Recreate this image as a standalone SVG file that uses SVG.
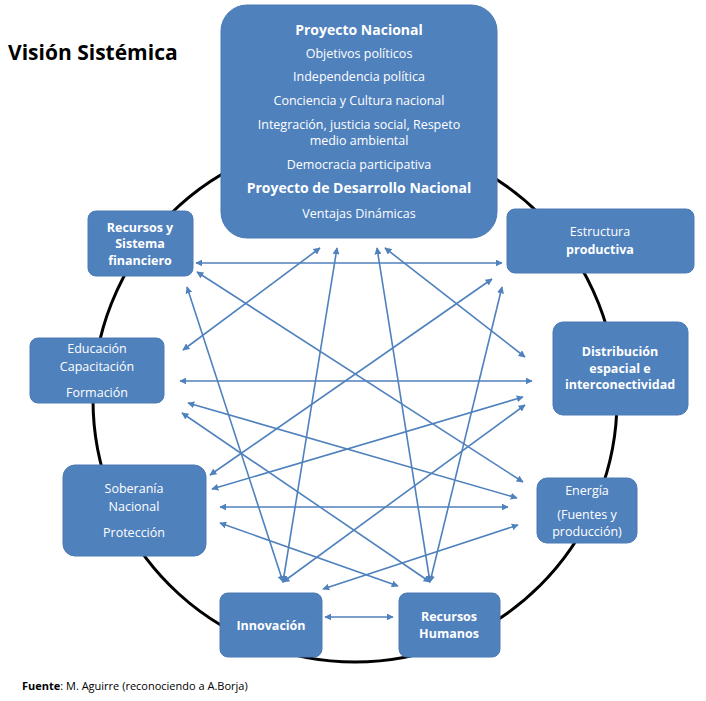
<svg xmlns="http://www.w3.org/2000/svg" width="706" height="701" viewBox="0 0 706 701">
<style>
.b{fill:#4f81bd;stroke:#4a7ab3;stroke-width:1}
.t{fill:#fff;font-family:"Open Sans","Liberation Sans",sans-serif;font-size:12.5px;text-anchor:middle}
.bd{font-weight:bold}
.c line{stroke:#4f81bd;stroke-width:1.6;marker-start:url(#a);marker-end:url(#a)}
</style>
<defs><marker id="a" viewBox="0 0 10 10" refX="9" refY="5" markerWidth="7" markerHeight="7" orient="auto-start-reverse" markerUnits="userSpaceOnUse"><path d="M0,0L10,5L0,10z" fill="#4f81bd"/></marker></defs>
<rect width="706" height="701" fill="#fff"/>
<circle cx="355" cy="400" r="262" fill="none" stroke="#000" stroke-width="3"/>
<text x="8" y="60" font-family="Open Sans,Liberation Sans,sans-serif" font-weight="bold" font-size="21" fill="#000">Visión Sistémica</text>
<text x="22" y="690" font-family="Open Sans,Liberation Sans,sans-serif" font-size="11" fill="#000"><tspan font-weight="bold">Fuente</tspan>: M. Aguirre (reconociendo a A.Borja)</text>
<g class="c">
<line x1="196" y1="263" x2="502" y2="263"/>
<line x1="320" y1="248" x2="183" y2="350"/>
<line x1="337" y1="248" x2="283" y2="582"/>
<line x1="377" y1="248" x2="430" y2="582"/>
<line x1="385" y1="248" x2="525" y2="357"/>
<line x1="197" y1="272" x2="523" y2="482"/>
<line x1="187" y1="287" x2="283" y2="582"/>
<line x1="492" y1="279" x2="210" y2="475"/>
<line x1="502" y1="287" x2="430" y2="582"/>
<line x1="180" y1="381" x2="532" y2="381"/>
<line x1="523" y1="397" x2="212" y2="489"/>
<line x1="525" y1="405" x2="283" y2="582"/>
<line x1="188" y1="403" x2="517" y2="498"/>
<line x1="182" y1="413" x2="430" y2="582"/>
<line x1="220" y1="507" x2="508" y2="507"/>
<line x1="220" y1="523" x2="398" y2="586"/>
<line x1="518" y1="525" x2="323" y2="589"/>
<line x1="325" y1="617" x2="393" y2="617"/>
</g>
<g id="pn"><rect class="b" x="221" y="5" width="276" height="233" rx="26"/>
<text class="t" y="35"><tspan x="359" class="bd" font-size="14">Proyecto Nacional</tspan><tspan x="359" dy="23">Objetivos políticos</tspan><tspan x="359" dy="23">Independencia política</tspan><tspan x="359" dy="24">Conciencia y Cultura nacional</tspan><tspan x="359" dy="24">Integración, justicia social, Respeto</tspan><tspan x="359" dy="16">medio ambiental</tspan><tspan x="359" dy="24">Democracia participativa</tspan><tspan x="359" dy="24" class="bd" font-size="14">Proyecto de Desarrollo Nacional</tspan><tspan x="359" dy="25">Ventajas Dinámicas</tspan></text></g>
<g id="rsf"><rect class="b" x="88" y="211" width="105" height="65" rx="8"/><text class="t bd" font-size="12"><tspan x="140" y="232">Recursos y</tspan><tspan x="140" y="248">Sistema</tspan><tspan x="140" y="265">financiero</tspan></text></g>
<g id="ep"><rect class="b" x="507" y="209" width="187" height="64" rx="8"/><text class="t" font-size="13.5"><tspan x="600" y="236">Estructura</tspan><tspan x="600" y="254" class="bd">productiva</tspan></text></g>
<g id="de"><rect class="b" x="553" y="322" width="135" height="93" rx="10"/><text class="t bd" font-size="12"><tspan x="620" y="356">Distribución</tspan><tspan x="620" y="373">espacial e</tspan><tspan x="620" y="389">interconectividad</tspan></text></g>
<g id="ed"><rect class="b" x="30" y="338" width="134" height="65" rx="8"/><text class="t" font-size="13.5"><tspan x="97" y="353">Educación</tspan><tspan x="97" y="371">Capacitación</tspan><tspan x="97" y="397">Formación</tspan></text></g>
<g id="en"><rect class="b" x="537" y="478" width="100" height="65" rx="10"/><text class="t" font-size="13.5"><tspan x="587" y="495">Energía</tspan><tspan x="587" y="519" font-size="12.5">(Fuentes y</tspan><tspan x="587" y="536" font-size="12.5">producción)</tspan></text></g>
<g id="so"><rect class="b" x="63" y="465" width="143" height="91" rx="12"/><text class="t" font-size="13.5"><tspan x="134" y="493">Soberanía</tspan><tspan x="134" y="511">Nacional</tspan><tspan x="134" y="537">Protección</tspan></text></g>
<g id="in"><rect class="b" x="220" y="593" width="102" height="64" rx="8"/><text class="t bd" x="271" y="630" font-size="13">Innovación</text></g>
<g id="rh"><rect class="b" x="399" y="593" width="101" height="64" rx="8"/><text class="t bd" font-size="13"><tspan x="449" y="621">Recursos</tspan><tspan x="449" y="638">Humanos</tspan></text></g>
</svg>
